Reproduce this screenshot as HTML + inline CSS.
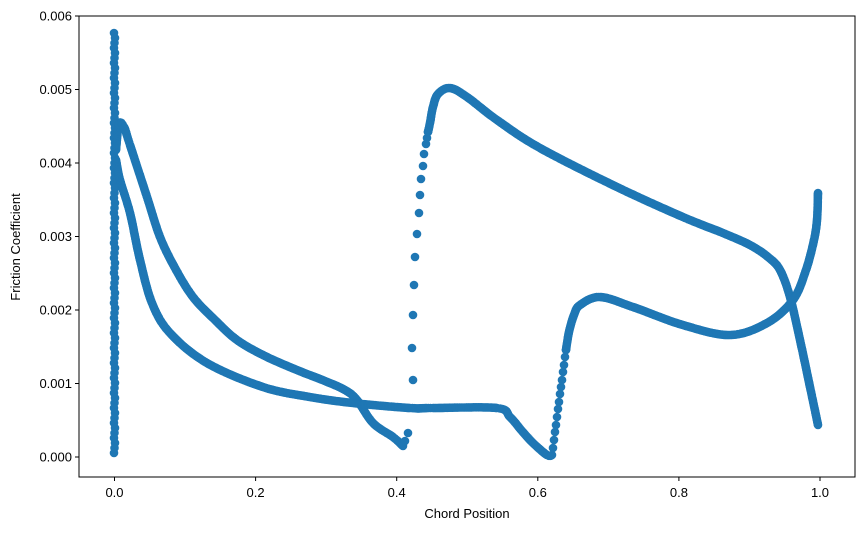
<!DOCTYPE html>
<html><head><meta charset="utf-8"><style>
html,body{margin:0;padding:0;background:#fff;}
svg text{font-family:"Liberation Sans",sans-serif;font-size:13px;fill:#000}
</style></head><body>
<svg id="s" width="863" height="530" xmlns="http://www.w3.org/2000/svg">
<rect width="863" height="530" fill="#fff"/>
<g id="pts" fill="#1f77b4"></g>
<rect x="79" y="16" width="776" height="461" fill="none" stroke="#000" stroke-width="1"/>
<g stroke="#000">
<line x1="114.5" y1="477" x2="114.5" y2="481"/><line x1="255.6" y1="477" x2="255.6" y2="481"/>
<line x1="396.7" y1="477" x2="396.7" y2="481"/><line x1="537.8" y1="477" x2="537.8" y2="481"/>
<line x1="678.9" y1="477" x2="678.9" y2="481"/><line x1="820" y1="477" x2="820" y2="481"/>
<line x1="75" y1="457" x2="79" y2="457"/><line x1="75" y1="383.5" x2="79" y2="383.5"/>
<line x1="75" y1="310" x2="79" y2="310"/><line x1="75" y1="236.5" x2="79" y2="236.5"/>
<line x1="75" y1="163" x2="79" y2="163"/><line x1="75" y1="89.5" x2="79" y2="89.5"/>
<line x1="75" y1="16" x2="79" y2="16"/>
</g>
<g text-anchor="middle">
<text x="114.5" y="497">0.0</text><text x="255.6" y="497">0.2</text><text x="396.7" y="497">0.4</text>
<text x="537.8" y="497">0.6</text><text x="678.9" y="497">0.8</text><text x="820" y="497">1.0</text>
<text x="467" y="518">Chord Position</text>
</g>
<g text-anchor="end">
<text x="72" y="461.5">0.000</text><text x="72" y="388">0.001</text><text x="72" y="314.5">0.002</text>
<text x="72" y="241">0.003</text><text x="72" y="167.5">0.004</text><text x="72" y="94">0.005</text>
<text x="72" y="20.5">0.006</text>
</g>
<text x="20" y="247" text-anchor="middle" transform="rotate(-90 20 247)">Friction Coefficient</text>
</svg>
<script>
var g=document.getElementById('pts'),out='';
function dot(x,y){out+='<circle cx="'+x.toFixed(1)+'" cy="'+y.toFixed(1)+'" r="4.3"/>';}
function cr(p,step){
 var P=[p[0]].concat(p,[p[p.length-1]]);
 for(var i=1;i<P.length-2;i++){
  var p0=P[i-1],p1=P[i],p2=P[i+1],p3=P[i+2];
  var d=Math.hypot(p2[0]-p1[0],p2[1]-p1[1]),n=Math.max(1,Math.ceil(d/step));
  for(var k=0;k<n;k++){var t=k/n,t2=t*t,t3=t2*t;
   var f=function(a,b,c,e){return 0.5*((2*b)+(-a+c)*t+(2*a-5*b+4*c-e)*t2+(-a+3*b-3*c+e)*t3);};
   dot(f(p0[0],p1[0],p2[0],p3[0]),f(p0[1],p1[1],p2[1],p3[1]));}
 }
 var l=p[p.length-1];dot(l[0],l[1]);
}
function pts(a){a.forEach(function(q){dot(q[0],q[1]);});}
// leading edge
for(var y=33;y<=453;y+=5)dot(114.5+(y%3-1)*0.5,y);
// upper front
cr([[116,150],[119,124],[124,127],[130,145],[147,197],[160,237],[175,268],[193,297],[215,320],[237,340],[265,356],[297,370],[325,381],[345,390],[357,400],[373,423],[393,437],[403,446]],1.5);
pts([[408,433],[405,441]]);
// lower front
cr([[116,160],[120,180],[130,213],[140,260],[152,303],[170,333],[207,363],[263,387],[310,397],[353,403],[410,408],[433,408],[497,408],[510,417],[522,431],[533,443],[547,455],[552,455]],1.5);
// upper rising sparse
pts([[413,380],[412,348],[413,315],[414,285],[415,257],[417,234],[419,213],[420,195],[421,179],[423,166],[424,154],[426,144],[427,138],[428,132]]);
cr([[428,132],[430,123],[433,107],[438,94],[450,88],[467,97],[497,120],[540,148],[617,187],[683,217],[723,233],[750,245],[768,257],[780,270],[790,297],[800,340],[810,387],[818,425]],1.5);
// lower rising
pts([[553,448],[554,440],[555,432],[556,425],[557,417],[558,409],[559,402],[560,394],[561,387],[562,380],[563,372],[564,365],[565,357],[566,350]]);
cr([[566,350],[569,332],[574,315],[580,305],[600,297],[633,307],[683,325],[730,335],[767,323],[793,300],[806,270],[814,240],[817,220],[818,193]],1.5);
g.innerHTML=out;
</script>
</body></html>
